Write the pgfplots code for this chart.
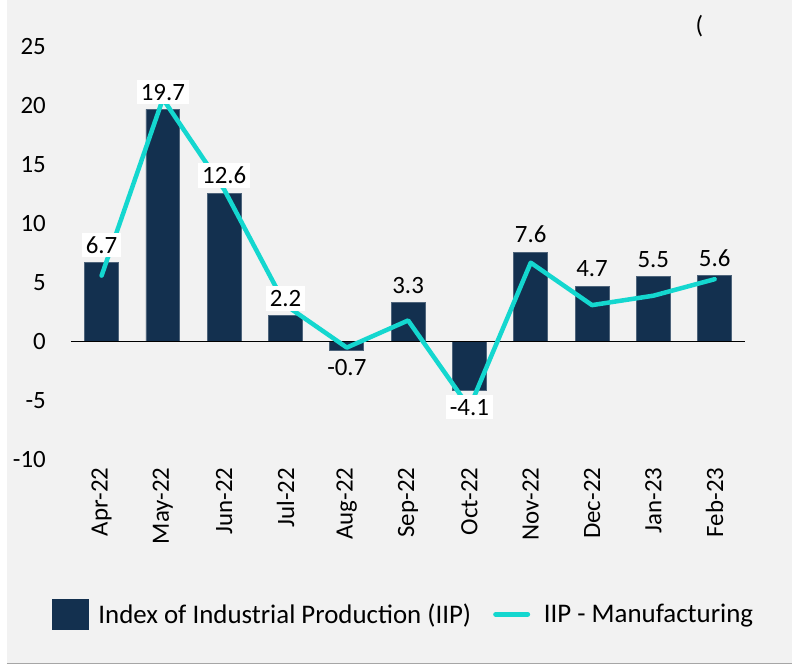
\documentclass[border=0pt]{standalone}
\usepackage{fontspec}
\setmainfont{Carlito}
\usepackage{pgfplots}
\pgfplotsset{compat=1.18}
\definecolor{navy}{HTML}{13304F}
\definecolor{mycyan}{HTML}{14D7CF}
\definecolor{bg}{HTML}{F2F2F2}
\begin{document}
\begin{tikzpicture}[font=\fontsize{25}{30}\selectfont]
\fill[white] (0,0) rectangle (793bp,667bp);
\fill[bg] (7bp,3bp) rectangle (793bp,667bp);
\draw[gray!70, line width=1.5bp] (7bp,3bp) -- (793bp,3bp);
\node[anchor=center] at (700bp,641bp) {(};
\useasboundingbox (0,0) rectangle (793bp,667bp);
\begin{axis}[
  at={(71bp,207bp)}, anchor=south west,
  scale only axis, width=675bp, height=413bp,
  xmin=-0.5, xmax=10.5, ymin=-10, ymax=25,
  xtick={0,...,10},
  xticklabels={Apr-22,May-22,Jun-22,Jul-22,Aug-22,Sep-22,Oct-22,Nov-22,Dec-22,Jan-23,Feb-23},
  ytick={-10,-5,0,5,10,15,20,25},
  axis line style={draw=none},
  major tick length=0pt,
  /pgf/number format/assume math mode=true,
  xticklabel style={rotate=90, anchor=east, inner sep=8bp},
  yticklabel style={anchor=east, inner sep=0pt, xshift=-25bp},
  legend columns=2,
  legend style={draw=none, fill=none, at={(0.493,-0.375)}, anchor=center,
    font=\fontsize{27}{32}\selectfont,
    /tikz/every even column/.append style={column sep=20bp}},
  clip=false,
]
\addplot[ybar, bar width=34bp, fill=navy, draw=navy!75!white, line width=0.8bp,
  legend image code/.code={\fill[navy] (2bp,-15bp) rectangle (38bp,15bp); \path (46bp,0bp);}]
  coordinates {(0,6.7) (1,19.7) (2,12.6) (3,2.2) (4,-0.7) (5,3.3) (6,-4.1) (7,7.6) (8,4.7) (9,5.5) (10,5.6)};
\addlegendentry{Index of Industrial Production (IIP)}
\draw[black, line width=1.2bp] (axis cs:-0.5,0) -- (axis cs:10.5,0);
\addplot[mycyan, line width=4.5bp, line cap=round, line join=round, mark=none,
  legend image code/.code={\draw[mycyan, line width=5bp, line cap=round] (0bp,0bp) -- (32bp,0bp); \path (44bp,0bp);}]
  coordinates {(0,5.6) (1,20.6) (2,12.9) (3,3.1) (4,-0.5) (5,1.8) (6,-5.6) (7,6.7) (8,3.1) (9,3.9) (10,5.3)};
\addlegendentry{IIP - Manufacturing}
\addplot[draw=none, mark=none, forget plot, nodes near coords, point meta=explicit symbolic,
  nodes near coords style={anchor=south, fill=white, inner sep=4bp, yshift=5bp}]
  coordinates {(0,6.7)[6.7] (1,19.7)[19.7] (2,12.6)[12.6] (3,2.2)[2.2]};
\addplot[draw=none, mark=none, forget plot, nodes near coords, point meta=explicit symbolic,
  nodes near coords style={anchor=south, inner sep=4bp, yshift=5bp}]
  coordinates {(5,3.3)[3.3] (7,7.6)[7.6] (8,4.7)[4.7] (9,5.5)[5.5] (10,5.6)[5.6]};
\addplot[draw=none, mark=none, forget plot, nodes near coords, point meta=explicit symbolic,
  nodes near coords style={anchor=north, fill=white, inner sep=4bp, yshift=-5bp}]
  coordinates {(6,-4.1)[-4.1]};
\addplot[draw=none, mark=none, forget plot, nodes near coords, point meta=explicit symbolic,
  nodes near coords style={anchor=north, inner sep=4bp, yshift=-5bp}]
  coordinates {(4,-0.7)[-0.7]};
\end{axis}
\end{tikzpicture}
\end{document}
